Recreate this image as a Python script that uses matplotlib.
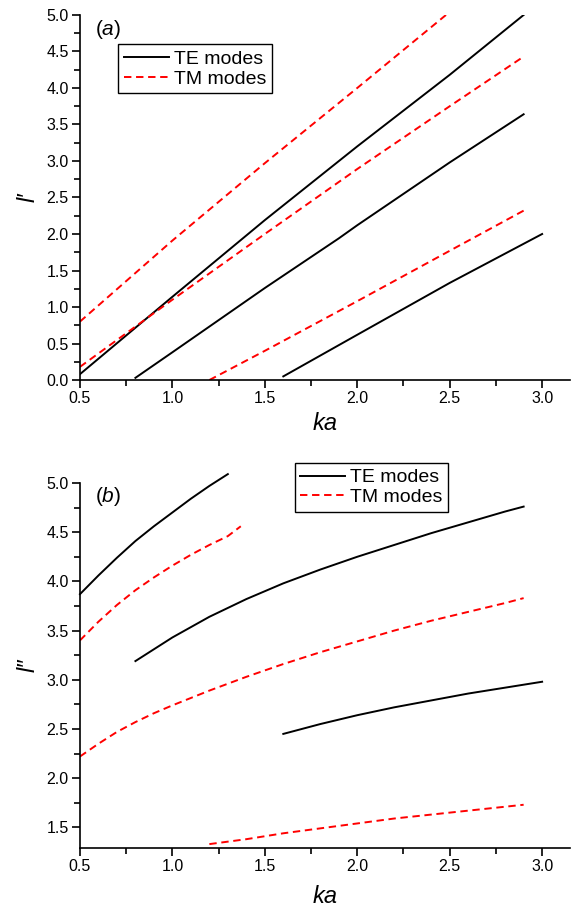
import matplotlib
matplotlib.use("Agg")
import matplotlib.pyplot as plt
from matplotlib.ticker import MultipleLocator, AutoMinorLocator

plt.rcParams['font.family'] = ['Liberation Sans', 'DejaVu Sans']
plt.rcParams['mathtext.fontset'] = 'custom'
plt.rcParams['mathtext.it'] = 'Liberation Sans:italic'
plt.rcParams['mathtext.rm'] = 'Liberation Sans'

# ================================
# Data
# ================================
# panel (a): l'
a_te1_x = [0.5, 1.0, 1.5, 2.0, 2.5, 2.9]
a_te1_y = [0.08, 1.14, 2.19, 3.20, 4.18, 5.00]
a_te2_x = [0.8, 1.0, 1.5, 1.9, 1.95, 2.0, 2.5, 2.9]
a_te2_y = [0.03, 0.38, 1.26, 1.94, 2.03, 2.12, 2.98, 3.64]
a_te3_x = [1.6, 2.0, 2.5, 3.0]
a_te3_y = [0.05, 0.62, 1.33, 2.00]

a_tm1_x = [0.5, 1.0, 1.5, 2.0, 2.48]
a_tm1_y = [0.80, 1.91, 2.97, 4.00, 5.00]
a_tm2_x = [0.5, 1.0, 1.5, 2.0, 2.5, 2.9]
a_tm2_y = [0.18, 1.10, 2.00, 2.89, 3.75, 4.43]
a_tm3_x = [1.2, 1.5, 2.0, 2.5, 2.9]
a_tm3_y = [0.00, 0.40, 1.08, 1.77, 2.32]

# panel (b): l''
b_te1_x = [0.5, 0.6, 0.7, 0.8, 0.9, 1.0, 1.1, 1.2, 1.3]
b_te1_y = [3.87, 4.06, 4.24, 4.41, 4.56, 4.70, 4.84, 4.97, 5.09]
b_te2_x = [0.8, 1.0, 1.2, 1.4, 1.6, 1.8, 2.0, 2.2, 2.4, 2.6, 2.8, 2.9]
b_te2_y = [3.19, 3.43, 3.64, 3.82, 3.98, 4.12, 4.25, 4.37, 4.49, 4.60, 4.71, 4.76]
b_te3_x = [1.6, 1.8, 2.0, 2.2, 2.4, 2.6, 2.8, 3.0]
b_te3_y = [2.45, 2.55, 2.64, 2.72, 2.79, 2.86, 2.92, 2.98]

b_tm1_x = [0.5, 0.6, 0.7, 0.8, 0.9, 1.0, 1.1, 1.2, 1.3, 1.37]
b_tm1_y = [3.40, 3.59, 3.76, 3.91, 4.04, 4.16, 4.27, 4.37, 4.46, 4.56]
b_tm2_x = [0.5, 0.6, 0.7, 0.8, 0.9, 1.0, 1.2, 1.4, 1.6, 1.8, 2.0, 2.2, 2.4, 2.6, 2.8, 2.9]
b_tm2_y = [2.22, 2.35, 2.47, 2.57, 2.66, 2.74, 2.89, 3.03, 3.16, 3.28, 3.39, 3.50, 3.60, 3.69, 3.78, 3.83]
b_tm3_x = [1.2, 1.4, 1.6, 1.8, 2.0, 2.2, 2.4, 2.6, 2.8, 2.9]
b_tm3_y = [1.33, 1.38, 1.44, 1.49, 1.54, 1.59, 1.63, 1.67, 1.71, 1.73]

TE_STYLE = dict(color="black", linewidth=1.4, linestyle="-")
TM_STYLE = dict(color="red", linewidth=1.4, linestyle=(0, (3.8, 2.4)))

fig = plt.figure(figsize=(5.71, 9.07), dpi=100)
ax1 = fig.add_axes([0.140, 0.581, 0.858, 0.4025])
ax2 = fig.add_axes([0.140, 0.065, 0.858, 0.4025])


def style_axes(ax, ylim, ylabel, panel, panel_y, xpad):
    for s in ["top", "right"]:
        ax.spines[s].set_visible(False)
    for s in ["left", "bottom"]:
        ax.spines[s].set_linewidth(1.2)
    ax.set_xlim(0.5, 3.15)
    ax.set_ylim(*ylim)
    ax.xaxis.set_major_locator(MultipleLocator(0.5))
    ax.xaxis.set_minor_locator(AutoMinorLocator(2))
    ax.yaxis.set_major_locator(MultipleLocator(0.5))
    ax.yaxis.set_minor_locator(AutoMinorLocator(2))
    ax.tick_params(which="major", direction="out", length=6, width=1.2, labelsize=11.5, pad=2)
    ax.tick_params(which="minor", direction="out", length=4, width=1.2)
    ax.xaxis.set_major_formatter(plt.FormatStrFormatter("%.1f"))
    ax.yaxis.set_major_formatter(plt.FormatStrFormatter("%.1f"))
    ax.set_xlabel("ka", fontsize=17, style="italic", labelpad=xpad)
    ax.set_ylabel(ylabel, fontsize=17, style="italic", labelpad=5)
    ax.text(0.582, panel_y, "(" + r"$\it{" + panel + "}$" + ")", fontsize=15, va="center")


def add_legend(ax, anchor):
    leg = ax.legend(loc="upper left", bbox_to_anchor=anchor, fontsize=14,
                    frameon=True, fancybox=False, edgecolor="black", framealpha=1,
                    handlelength=2.3, handletextpad=0.25, borderpad=0.3,
                    labelspacing=0.12, borderaxespad=0)
    leg.get_frame().set_linewidth(1.0)


# ================================
# PANEL (a)
# ================================
ax1.plot(a_te1_x, a_te1_y, label="TE modes", **TE_STYLE)
ax1.plot(a_tm1_x, a_tm1_y, label="TM modes", **TM_STYLE)
ax1.plot(a_te2_x, a_te2_y, **TE_STYLE)
ax1.plot(a_te3_x, a_te3_y, **TE_STYLE)
ax1.plot(a_tm2_x, a_tm2_y, **TM_STYLE)
ax1.plot(a_tm3_x, a_tm3_y, **TM_STYLE)
style_axes(ax1, (0.0, 5.0), "l\u2032", "a", 4.80, 4)
add_legend(ax1, (0.078, 0.92))

# ================================
# PANEL (b)
# ================================
ax2.plot(b_te1_x, b_te1_y, label="TE modes", clip_on=False, **TE_STYLE)
ax2.plot(b_tm1_x, b_tm1_y, label="TM modes", **TM_STYLE)
ax2.plot(b_te2_x, b_te2_y, **TE_STYLE)
ax2.plot(b_te3_x, b_te3_y, **TE_STYLE)
ax2.plot(b_tm2_x, b_tm2_y, **TM_STYLE)
ax2.plot(b_tm3_x, b_tm3_y, **TM_STYLE)
style_axes(ax2, (1.29, 5.0), "l\u2033", "b", 4.86, 8)
add_legend(ax2, (0.438, 1.055))

plt.savefig("out.png", dpi=100)
plt.close()
